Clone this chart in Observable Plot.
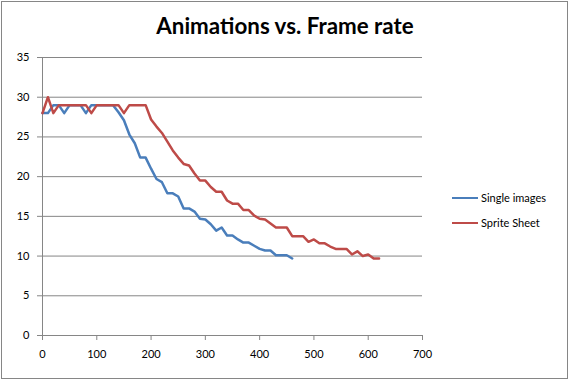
<!DOCTYPE html>
<html><head><meta charset="utf-8">
<script src="https://cdn.jsdelivr.net/npm/d3@7"></script>
<script src="https://cdn.jsdelivr.net/npm/@observablehq/plot@0.6"></script>
<style>
body{margin:0;background:#fff;}
#wrap{position:relative;width:570px;height:381px;font-family:Lato,"Open Sans",sans-serif;overflow:hidden;}
#border{position:absolute;left:1px;top:1px;width:565px;height:376px;border:1px solid #868686;pointer-events:none;}
#title{position:absolute;left:0;width:570px;top:12px;text-align:center;font-weight:bold;font-size:22px;color:#000;white-space:nowrap;}
.leg{position:absolute;left:452px;font-size:11px;color:#000;white-space:nowrap;}
.leg span{display:inline-block;width:26px;height:0;border-top:2.5px solid;vertical-align:middle;margin-right:3px;position:relative;top:-1px;}
svg{position:absolute;left:0;top:0;}
</style></head>
<body><div id="wrap"></div>
<script>
const title = "Animations vs. Frame rate";
const seriesNames = ["Single images", "Sprite Sheet"];
const colors = ["#4A7EBB", "#BE4B48"];
const xTicks = [0, 100, 200, 300, 400, 500, 600, 700];
const yTicks = [0, 5, 10, 15, 20, 25, 30, 35];

const singleX = [0,10,20,30,40,50,60,70,80,90,100,110,120,130,140,150,160,170,180,190,200,210,220,230,240,250,260,270,280,290,300,310,320,330,340,350,360,370,380,390,400,410,420,430,440,450,460];
const singleY = [28,28,29,29,28,29,29,29,28,29,29,29,29,29,28.1,27.1,25.3,24.2,22.4,22.4,21.0,19.7,19.3,17.9,17.9,17.5,16.0,16.0,15.6,14.7,14.6,14.0,13.2,13.6,12.6,12.6,12.1,11.7,11.7,11.3,10.9,10.7,10.7,10.1,10.1,10.1,9.7];

const spriteX = [0,10,20,30,40,50,60,70,80,90,100,110,120,130,140,150,160,170,180,190,200,210,220,230,240,250,260,270,280,290,300,310,320,330,340,350,360,370,380,390,400,410,420,430,440,450,460,470,480,490,500,510,520,530,540,550,560,570,580,590,600,610,620];
const spriteY = [28,30,28,29,29,29,29,29,29,28,29,29,29,29,29,28,29,29,29,29,27.2,26.3,25.5,24.4,23.3,22.4,21.6,21.4,20.4,19.5,19.5,18.7,18.1,18.1,17.0,16.6,16.6,15.8,15.8,15.1,14.7,14.6,14.1,13.6,13.6,13.6,12.5,12.5,12.5,11.8,12.1,11.6,11.6,11.2,10.9,10.9,10.9,10.2,10.6,10.0,10.2,9.7,9.7];

const data = [
  ...singleX.map((x, i) => ({x, y: singleY[i], s: seriesNames[0]})),
  ...spriteX.map((x, i) => ({x, y: spriteY[i], s: seriesNames[1]}))
];

const chart = Plot.plot({
  width: 570, height: 381,
  marginLeft: 42, marginRight: 148, marginTop: 57, marginBottom: 46,
  style: {fontFamily: "Lato, 'Open Sans', sans-serif", fontSize: "11px", color: "#000", background: "transparent"},
  x: {domain: [0, 700]},
  y: {domain: [0, 35]},
  color: {domain: seriesNames, range: colors},
  marks: [
    Plot.gridY(yTicks, {stroke: "#868686", strokeOpacity: 1, strokeWidth: 1}),
    Plot.ruleX([0], {stroke: "#868686", strokeWidth: 1}),
    Plot.axisX(xTicks, {tickSize: 5, tickPadding: 10, stroke: "#868686", fill: "#000", label: null, fontSize: 11}),
    Plot.axisY(yTicks, {tickSize: 5, tickPadding: 8, stroke: "#868686", fill: "#000", label: null, fontSize: 11}),
    Plot.line(data, {x: "x", y: "y", z: "s", stroke: "s", strokeWidth: 2.5, strokeLinejoin: "round", strokeLinecap: "round"})
  ]
});

const wrap = document.getElementById("wrap");
wrap.appendChild(chart);
const t = document.createElement("div");
t.id = "title"; t.textContent = title;
wrap.appendChild(t);
// fit title width to ~258px
const c = document.createElement("canvas").getContext("2d");
c.font = "bold 22px Lato";
const w = c.measureText(title).width;
t.style.fontSize = (22 * 258 / w).toFixed(2) + "px";
const legTops = [191, 216];
seriesNames.forEach((n, i) => {
  const d = document.createElement("div");
  d.className = "leg"; d.style.top = legTops[i] + "px";
  d.innerHTML = `<span style="border-color:${colors[i]}"></span>${n}`;
  wrap.appendChild(d);
});
const b = document.createElement("div"); b.id = "border"; wrap.appendChild(b);
</script>
</body></html>
